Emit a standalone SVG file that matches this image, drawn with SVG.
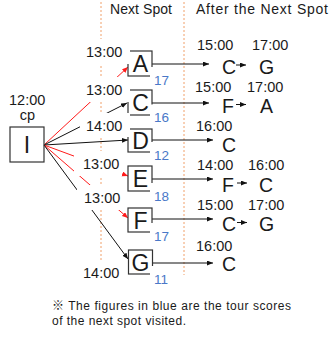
<svg xmlns="http://www.w3.org/2000/svg" width="330" height="337" viewBox="0 0 330 337">
  <style>
    text { font-family: "Liberation Sans", "Noto Sans CJK JP", sans-serif; fill: #1a1a1a; }
    .hdr { font-size: 14px; }
    .time { font-size: 14.5px; }
    .big { font-size: 23px; }
    .seq { font-size: 19.5px; }
    .score { font-size: 13.5px; fill: #4a78c8; }
    .note { font-size: 12px; }
    .box { fill: none; stroke: #333; stroke-width: 1.2; }
    .bg { fill: #fff; }
    .dot { stroke: #f0a06a; stroke-width: 1; stroke-dasharray: 2 2; fill: none; }
    .blk { stroke: #111; stroke-width: 1; fill: none; }
    .red { stroke: #ff1a1a; stroke-width: 1; fill: none; }
  </style>
  <defs>
    <marker id="ahB" markerUnits="userSpaceOnUse" markerWidth="7" markerHeight="6" refX="6" refY="2.5" orient="auto">
      <path d="M0,0 L6,2.5 L0,5 z" fill="#111"/>
    </marker>
    <marker id="ahR" markerUnits="userSpaceOnUse" markerWidth="7" markerHeight="6" refX="6" refY="2.5" orient="auto">
      <path d="M0,0 L6,2.5 L0,5 z" fill="#ff1a1a"/>
    </marker>
  </defs>

  <rect width="330" height="337" fill="#fff"/>

  <!-- column separators and headers -->
  <g id="headers">
    <line class="dot" x1="101" y1="2" x2="101" y2="260"/>
    <line class="dot" x1="184" y1="2" x2="184" y2="275"/>
    <text class="hdr" x="110" y="14" textLength="62">Next Spot</text>
    <text class="hdr" x="196" y="14" textLength="132">After the Next Spot</text>
  </g>

  <!-- connectors -->
  <g id="connectors">
    <line class="red" x1="44" y1="145" x2="128" y2="67" marker-end="url(#ahR)"/>
    <line class="blk" x1="44" y1="145" x2="127" y2="103" marker-end="url(#ahB)"/>
    <line class="blk" x1="44" y1="145" x2="128" y2="140" marker-end="url(#ahB)"/>
    <line class="red" x1="44" y1="145" x2="128" y2="176" marker-end="url(#ahR)"/>
    <line class="red" x1="44" y1="145" x2="128" y2="218" marker-end="url(#ahR)"/>
    <line class="blk" x1="44" y1="145" x2="128" y2="259" marker-end="url(#ahB)"/>

    <line class="blk" x1="152" y1="64" x2="209" y2="64" marker-end="url(#ahB)"/>
    <line class="blk" x1="152" y1="103" x2="209" y2="103" marker-end="url(#ahB)"/>
    <line class="blk" x1="152" y1="140" x2="213" y2="140" marker-end="url(#ahB)"/>
    <line class="blk" x1="152" y1="179" x2="213" y2="179" marker-end="url(#ahB)"/>
    <line class="blk" x1="152" y1="219" x2="213" y2="219" marker-end="url(#ahB)"/>
    <line class="blk" x1="152" y1="263" x2="213" y2="263" marker-end="url(#ahB)"/>

    <line class="blk" x1="236" y1="65" x2="246" y2="65" marker-end="url(#ahB)"/>
    <line class="blk" x1="236" y1="104.5" x2="246" y2="104.5" marker-end="url(#ahB)"/>
    <line class="blk" x1="237" y1="183" x2="247" y2="183" marker-end="url(#ahB)"/>
    <line class="blk" x1="237" y1="222.5" x2="247" y2="222.5" marker-end="url(#ahB)"/>
  </g>

  <g id="node-I">
    <text class="time" x="9" y="105">12:00</text>
    <text class="time" x="27.5" y="120" text-anchor="middle">cp</text>
    <rect class="box" x="10" y="127" width="34" height="35"/>
    <text class="big" x="27" y="153" text-anchor="middle">I</text>
  </g>

  <g id="node-A">
    <rect class="box" x="128" y="51" width="24" height="25"/>
    <text class="big" x="140.5" y="72" text-anchor="middle">A</text>
    <rect class="bg" x="80" y="39" width="50" height="25"/>
    <text class="time" x="86" y="57">13:00</text>
    <rect class="bg" x="150" y="67" width="26" height="24"/>
    <text class="score" x="154" y="85">17</text>
  </g>

  <g id="node-C">
    <rect class="box" x="128" y="90" width="24" height="25"/>
    <text class="big" x="140.5" y="111" text-anchor="middle">C</text>
    <rect class="bg" x="80" y="77" width="50" height="25"/>
    <text class="time" x="86" y="95">13:00</text>
    <rect class="bg" x="150" y="104.5" width="26" height="23"/>
    <text class="score" x="154" y="122">16</text>
  </g>

  <g id="node-D">
    <rect class="box" x="128" y="129" width="24" height="23"/>
    <text class="big" x="140.5" y="149" text-anchor="middle">D</text>
    <rect class="bg" x="80" y="113" width="50" height="24"/>
    <text class="time" x="86" y="131">14:00</text>
    <rect class="bg" x="150" y="142" width="26" height="24"/>
    <text class="score" x="154" y="160">12</text>
  </g>

  <g id="node-E">
    <rect class="box" x="128" y="166" width="24" height="25"/>
    <text class="big" x="140.5" y="187" text-anchor="middle">E</text>
    <rect class="bg" x="74" y="151" width="48" height="25"/>
    <text class="time" x="83" y="169">13:00</text>
    <rect class="bg" x="150" y="183" width="26" height="24"/>
    <text class="score" x="154" y="201">18</text>
  </g>

  <g id="node-F">
    <rect class="box" x="128" y="208" width="24" height="24"/>
    <text class="big" x="140.5" y="229" text-anchor="middle">F</text>
    <rect class="bg" x="77" y="185" width="49" height="25"/>
    <text class="time" x="84" y="203">13:00</text>
    <rect class="bg" x="150" y="223" width="26" height="24"/>
    <text class="score" x="154" y="241">17</text>
  </g>

  <g id="node-G">
    <rect class="box" x="128.5" y="250" width="24" height="24"/>
    <text class="big" x="140.5" y="271" text-anchor="middle">G</text>
    <rect class="bg" x="77" y="260" width="50" height="25"/>
    <text class="time" x="83" y="278">14:00</text>
    <rect class="bg" x="150" y="266" width="26" height="24"/>
    <text class="score" x="154" y="284">11</text>
  </g>

  <!-- after the next spot -->
  <g id="after-A">
    <text class="time" x="197" y="50">15:00</text>
    <text class="time" x="252" y="50">17:00</text>
    <text class="seq" x="222" y="74">C</text>
    <text class="seq" x="259" y="74">G</text>
  </g>
  <g id="after-C">
    <text class="time" x="195" y="91.5">15:00</text>
    <text class="time" x="247" y="91.5">17:00</text>
    <text class="seq" x="222" y="112.5">F</text>
    <text class="seq" x="260" y="112.5">A</text>
  </g>
  <g id="after-D">
    <text class="time" x="196" y="131">16:00</text>
    <text class="seq" x="222" y="152">C</text>
  </g>
  <g id="after-E">
    <text class="time" x="197" y="170">14:00</text>
    <text class="time" x="248" y="170">16:00</text>
    <text class="seq" x="222" y="191.5">F</text>
    <text class="seq" x="259" y="191.5">C</text>
  </g>
  <g id="after-F">
    <text class="time" x="197" y="209.5">15:00</text>
    <text class="time" x="248" y="209.5">17:00</text>
    <text class="seq" x="222" y="230.5">C</text>
    <text class="seq" x="259" y="230.5">G</text>
  </g>
  <g id="after-G">
    <text class="time" x="196" y="251">16:00</text>
    <text class="seq" x="222" y="271">C</text>
  </g>

  <g id="note">
    <text class="note" x="52" y="310" textLength="239">※ The figures in blue are the tour scores</text>
    <text class="note" x="52" y="325" textLength="134">of the next spot visited.</text>
  </g>
</svg>
